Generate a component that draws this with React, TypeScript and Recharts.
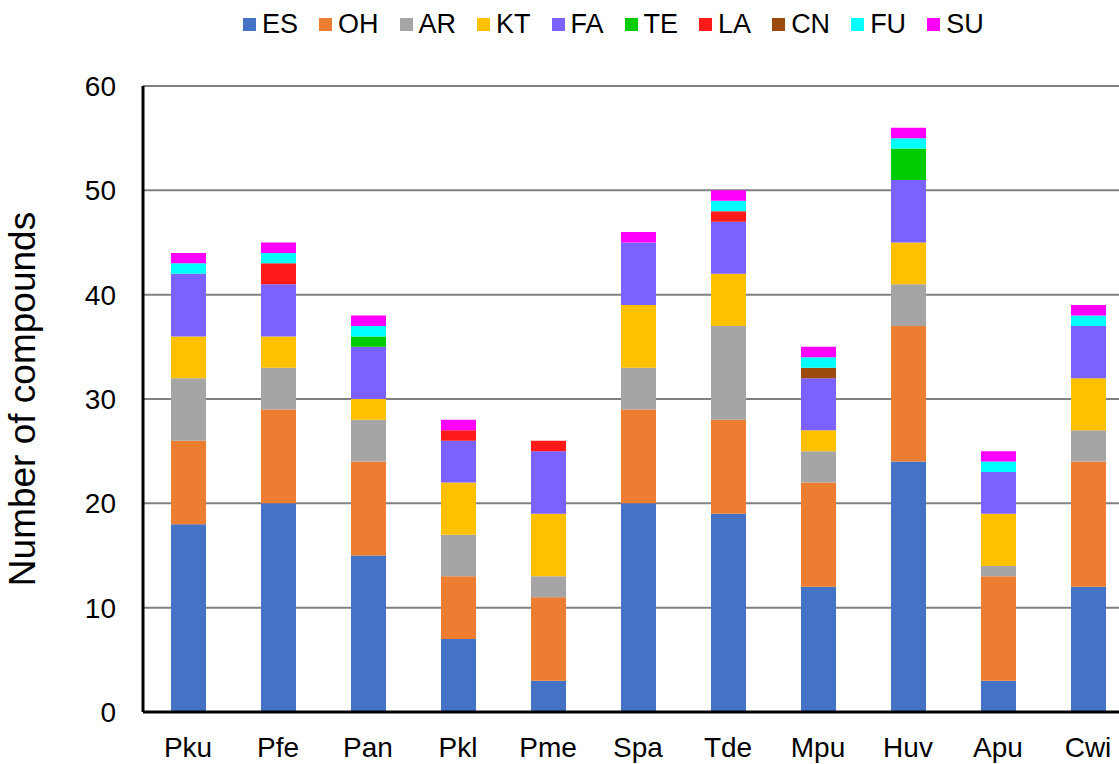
import React from 'react';
import { BarChart, Bar, XAxis, YAxis, CartesianGrid } from 'recharts';

const species = ['Pku', 'Pfe', 'Pan', 'Pkl', 'Pme', 'Spa', 'Tde', 'Mpu', 'Huv', 'Apu', 'Cwi'];

const ES = [18, 20, 15, 7, 3, 20, 19, 12, 24, 3, 12];
const OH = [8, 9, 9, 6, 8, 9, 9, 10, 13, 10, 12];
const AR = [6, 4, 4, 4, 2, 4, 9, 3, 4, 1, 3];
const KT = [4, 3, 2, 5, 6, 6, 5, 2, 4, 5, 5];
const FA = [6, 5, 5, 4, 6, 6, 5, 5, 6, 4, 5];
const TE = [0, 0, 1, 0, 0, 0, 0, 0, 3, 0, 0];
const LA = [0, 2, 0, 1, 1, 0, 1, 0, 0, 0, 0];
const CN = [0, 0, 0, 0, 0, 0, 0, 1, 0, 0, 0];
const FU = [1, 1, 1, 0, 0, 0, 1, 1, 1, 1, 1];
const SU = [1, 1, 1, 1, 0, 1, 1, 1, 1, 1, 1];

const yTicks = [0, 10, 20, 30, 40, 50, 60];

const series = [
  { key: 'ES', values: ES, color: '#4472C4' },
  { key: 'OH', values: OH, color: '#ED7D31' },
  { key: 'AR', values: AR, color: '#A5A5A5' },
  { key: 'KT', values: KT, color: '#FFC000' },
  { key: 'FA', values: FA, color: '#7B61FF' },
  { key: 'TE', values: TE, color: '#00CC00' },
  { key: 'LA', values: LA, color: '#FF1A1A' },
  { key: 'CN', values: CN, color: '#9C4A0E' },
  { key: 'FU', values: FU, color: '#00FFFF' },
  { key: 'SU', values: SU, color: '#FF00FF' },
];

const data = species.map((name, i) => {
  const row: { [key: string]: string | number } = { name };
  series.forEach(s => { row[s.key] = s.values[i]; });
  return row;
});

const font = '"Liberation Sans", Arial, sans-serif';

// legend drawn above the plot, like the Excel one
const TopLegend = () => (
  <div style={{ position: 'absolute', top: 8, left: 243, height: 32, display: 'flex', alignItems: 'center', fontFamily: font, fontSize: 27, color: '#000' }}>
    {series.map(s => (
      <div key={s.key} style={{ display: 'flex', alignItems: 'center', marginRight: 21 }}>
        <span style={{ width: 13, height: 13, background: s.color, marginRight: 6, display: 'inline-block' }} />
        <span>{s.key}</span>
      </div>
    ))}
  </div>
);

export default function App() {
  return (
    <div style={{ position: 'absolute', left: 0, top: 0, width: 1119, height: 764, overflow: 'hidden', background: '#fff' }}>
      <TopLegend />
      <BarChart
        width={1135}
        height={764}
        data={data}
        margin={{ top: 86, right: 2, bottom: 0, left: 0 }}
        barSize={35}
      >
        <CartesianGrid horizontal vertical={false} stroke="#808080" strokeWidth={2} />
        <XAxis
          dataKey="name"
          height={52}
          axisLine={{ stroke: '#000', strokeWidth: 3 }}
          tickLine={false}
          tickSize={0}
          tickMargin={25}
          tick={{ fontSize: 28, fill: '#000', fontFamily: font }}
        />
        <YAxis
          width={143}
          domain={[0, 60]}
          ticks={yTicks}
          interval={0}
          axisLine={{ stroke: '#000', strokeWidth: 3 }}
          tickLine={false}
          tickSize={0}
          tickMargin={27}
          tick={{ fontSize: 28, fill: '#000', fontFamily: font }}
          label={{ value: 'Number of compounds', angle: -90, position: 'insideLeft', offset: 22, style: { fontSize: 37, fill: '#000', fontFamily: font, textAnchor: 'middle' } }}
        />
        {series.map(s => (
          <Bar key={s.key} dataKey={s.key} stackId="a" fill={s.color} isAnimationActive={false} />
        ))}
      </BarChart>
    </div>
  );
}
